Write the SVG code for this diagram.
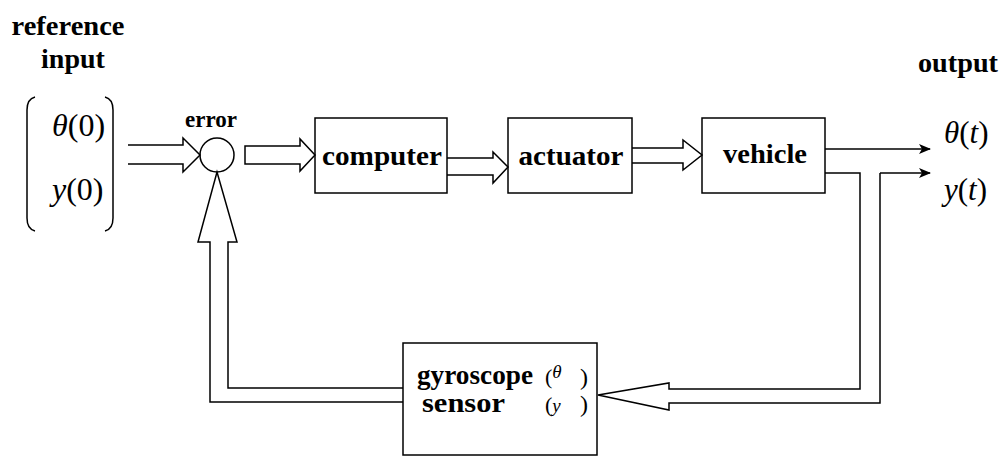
<svg xmlns="http://www.w3.org/2000/svg" width="1001" height="462" viewBox="0 0 1001 462">
<style>
.lbl{font-family:"Liberation Serif","Times New Roman",serif;font-weight:bold;fill:#000}
.math{font-family:"Liberation Serif","Times New Roman",serif;fill:#000}
.it{font-style:italic}
.box{fill:#fff;stroke:#000;stroke-width:1.5}
.ln{fill:none;stroke:#000;stroke-width:1.5}
</style>
<defs>
<marker id="ah" markerWidth="12" markerHeight="10" refX="11" refY="5" orient="auto" markerUnits="userSpaceOnUse">
<path d="M0,0 L12,5 L0,10 L3,5 Z" fill="#000"/>
</marker>
</defs>
<rect width="1001" height="462" fill="#fff"/>

<g id="ref-input">
<text class="lbl" x="68" y="35" font-size="28" text-anchor="middle" textLength="113" lengthAdjust="spacingAndGlyphs">reference</text>
<text class="lbl" x="73" y="68" font-size="28" text-anchor="middle">input</text>
<path class="ln" d="M35 97 Q27 99 27 110 L27 218 Q27 229 35 231"/>
<path class="ln" d="M105 97 Q113 99 113 110 L113 218 Q113 229 105 231"/>
<text class="math" x="52" y="136" font-size="32"><tspan class="it">θ</tspan>(0)</text>
<text class="math" x="52" y="200" font-size="32"><tspan class="it">y</tspan>(0)</text>
</g>

<g id="error">
<text class="lbl" x="211" y="127" font-size="23" text-anchor="middle">error</text>
<circle cx="217" cy="155" r="17" class="box"/>
</g>

<g id="computer">
<rect class="box" x="315" y="118" width="132" height="75"/>
<text class="lbl" x="382" y="165" font-size="28" text-anchor="middle" textLength="120" lengthAdjust="spacingAndGlyphs">computer</text>
</g>

<g id="actuator">
<rect class="box" x="508" y="118" width="124" height="75"/>
<text class="lbl" x="571" y="165" font-size="28" text-anchor="middle" textLength="105" lengthAdjust="spacingAndGlyphs">actuator</text>
</g>

<g id="vehicle">
<rect class="box" x="702" y="118" width="123" height="75"/>
<text class="lbl" x="765" y="163" font-size="28" text-anchor="middle" textLength="84" lengthAdjust="spacingAndGlyphs">vehicle</text>
</g>

<g id="sensor">
<rect class="box" x="403" y="343" width="194" height="112"/>
<text class="lbl" x="417" y="384" font-size="27" textLength="116" lengthAdjust="spacingAndGlyphs">gyroscope</text>
<text class="math" x="545" y="384" font-size="22">(<tspan class="it" font-size="19" dy="-6">θ</tspan></text>
<text class="math" x="580" y="385" font-size="24">)</text>
<text class="lbl" x="422" y="412" font-size="27" textLength="83" lengthAdjust="spacingAndGlyphs">sensor</text>
<text class="math" x="545" y="412" font-size="22">(<tspan class="it" font-size="19">y</tspan></text>
<text class="math" x="580" y="412" font-size="24">)</text>
</g>

<g id="output">
<text class="lbl" x="918" y="72" font-size="28" textLength="80" lengthAdjust="spacingAndGlyphs">output</text>
<text class="math" x="944" y="143" font-size="31"><tspan class="it">θ</tspan>(<tspan class="it">t</tspan>)</text>
<text class="math" x="944" y="200" font-size="31"><tspan class="it">y</tspan>(<tspan class="it">t</tspan>)</text>
</g>

<g id="connectors">
<path class="ln" d="M128 145 L183 145 L183 138 L200 155 L183 172 L183 164 L128 164"/>
<path class="ln" d="M245 146 L300 146 L300 139 L315 155 L300 171 L300 164 L245 164 Z"/>
<path class="ln" d="M447 158 L493 158 L493 152 L508 167 L493 183 L493 175 L447 175"/>
<path class="ln" d="M632 148 L683 148 L683 140 L702 155 L683 170 L683 163 L632 163"/>
<path class="ln" d="M825 149 L930 149" marker-end="url(#ah)"/>
<path class="ln" d="M880 173 L930 173" marker-end="url(#ah)"/>
<path class="ln" d="M825 173 L860 173 L860 389 L669 389 L669 383 L598 395 L669 410 L669 403 L880 403 L880 173"/>
<path class="ln" d="M403 388 L228 388 L228 242 L237 242 L217 172 L198 242 L210 242 L210 402 L403 402"/>
</g>
</svg>
